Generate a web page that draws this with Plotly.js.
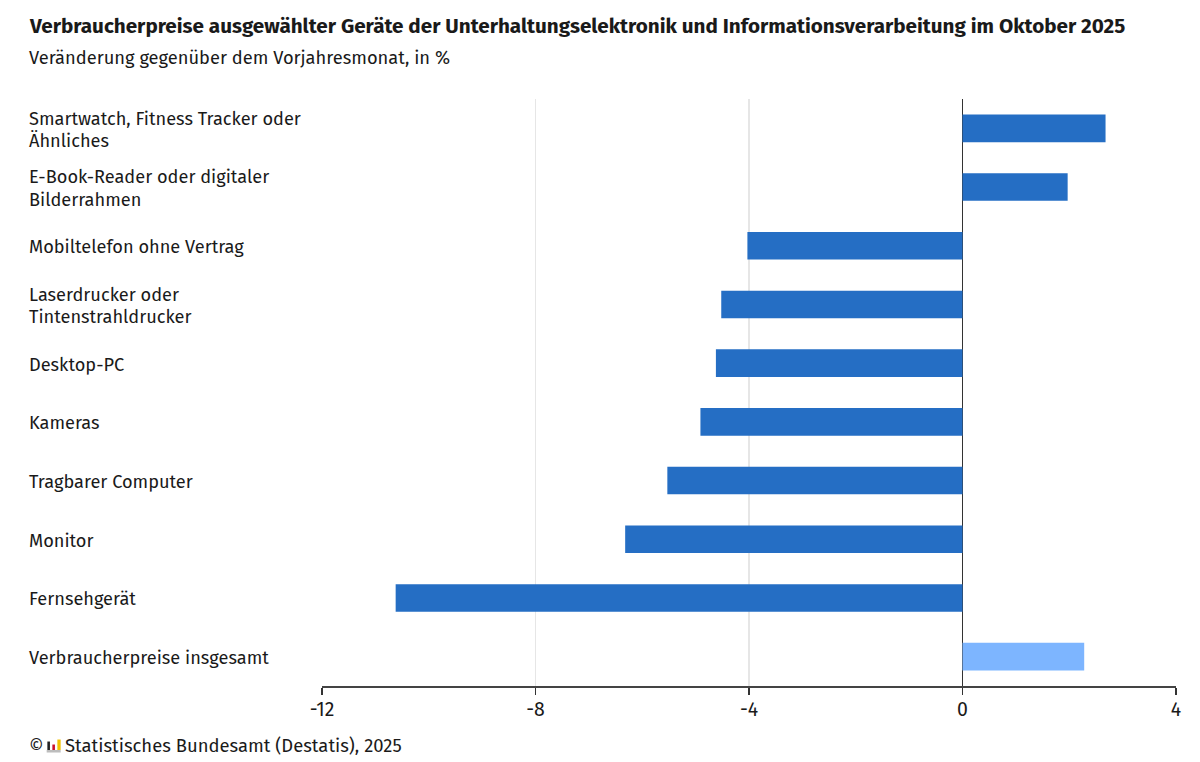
<!DOCTYPE html>
<html><head><meta charset="utf-8"><script src="https://cdn.plot.ly/plotly-3.0.1.min.js"></script>
<style>html,body{margin:0;padding:0;background:#fff}</style></head><body><div id="c" style="width:1200px;height:762px"></div>
<script>
const categories=["Smartwatch, Fitness Tracker oder<br>Ähnliches","E-Book-Reader oder digitaler<br>Bilderrahmen","Mobiltelefon ohne Vertrag","Laserdrucker oder<br>Tintenstrahldrucker","Desktop-PC","Kameras","Tragbarer Computer","Monitor","Fernsehgerät","Verbraucherpreise insgesamt"];
const values=[2.68,1.97,-4.03,-4.52,-4.62,-4.91,-5.53,-6.32,-10.62,2.28];
const barColors=["#256EC4","#256EC4","#256EC4","#256EC4","#256EC4","#256EC4","#256EC4","#256EC4","#256EC4","#7DB5FF"];
const tickVals=[-12,-8,-4,0,4];
const F="Fira Sans, 'Noto Sans', 'Open Sans', sans-serif";
const txt='#1a1a1a';
const W=1200,H=762;
const L=321.5,R=24,T=98.6,B=75.6;
const pw=W-L-R,ph=H-T-B;
const px=(x0,y0,x1,y1,c)=>({type:'rect',xref:'paper',yref:'paper',layer:'above',line:{width:0},fillcolor:c,
 x0:(x0-L)/pw,x1:(x1-L)/pw,y0:(H-B-y0)/ph,y1:(H-B-y1)/ph});
const shapes=[px(46,750.5,60,753,'#bdbdbd'),px(46.7,742,49.3,750.5,'#222222'),px(51.7,745,54.3,750.5,'#c8102e'),px(56.7,740,60,750.5,'#f2c200')];
const catNotes=categories.flatMap(c=>{
 const parts=c.split('<br>');
 return parts.map((t,j)=>({xref:'paper',yref:'y',x:0,xshift:-295.5,xanchor:'left',y:c,yanchor:'middle',
  yshift:-1.5+(parts.length===2?(j===0?11.3:-11.3):0),text:t,align:'left',showarrow:false,font:{size:18.2,family:F,color:txt}}));
});
Plotly.newPlot('c',[{type:'bar',orientation:'h',y:categories,x:values,marker:{color:barColors},width:0.47,hoverinfo:'skip'}],{
 width:W,height:H,paper_bgcolor:'#fff',plot_bgcolor:'#fff',showlegend:false,bargap:0.53,
 margin:{l:L,r:R,t:T,b:B},
 font:{family:F,color:txt,size:18},shapes,
 xaxis:{range:[-12,4],tickvals:tickVals,ticktext:tickVals.map(String),ticks:'outside',ticklen:7,tickwidth:1.3,tickcolor:'#333',ticklabelstandoff:-2,showgrid:true,gridcolor:'#e6e6e6',gridwidth:1.3,zeroline:true,zerolinecolor:'#333',zerolinewidth:1.3,showline:true,linecolor:'#444',linewidth:1.5,tickfont:{size:19.5,family:F,color:txt}},
 yaxis:{autorange:'reversed',showgrid:false,zeroline:false,showline:false,ticks:'',showticklabels:false},
 annotations:[
  ...catNotes,
  {xref:'paper',yref:'paper',x:0,xshift:-295.5,xanchor:'left',y:1,yshift:87,yanchor:'top',align:'left',showarrow:false,text:'<b>Verbraucherpreise ausgewählter Geräte der Unterhaltungselektronik und Informationsverarbeitung im Oktober 2025</b>',font:{size:20.65,family:F,color:'#1a1a1a'}},
  {xref:'paper',yref:'paper',x:0,xshift:-295.5,xanchor:'left',y:1,yshift:54,yanchor:'top',align:'left',showarrow:false,text:'Veränderung gegenüber dem Vorjahresmonat, in %',font:{size:18.3,family:F,color:txt}},
  {xref:'paper',yref:'paper',x:0,xshift:-295.5,xanchor:'left',y:0,yshift:-47,yanchor:'top',align:'left',showarrow:false,text:'©',font:{size:18,family:F,color:txt}},
  {xref:'paper',yref:'paper',x:0,xshift:-259,xanchor:'left',y:0,yshift:-47,yanchor:'top',align:'left',showarrow:false,text:'Statistisches Bundesamt (Destatis), 2025',font:{size:18.45,family:F,color:txt}}
 ]
},{displayModeBar:false,staticPlot:true});
</script></body></html>
